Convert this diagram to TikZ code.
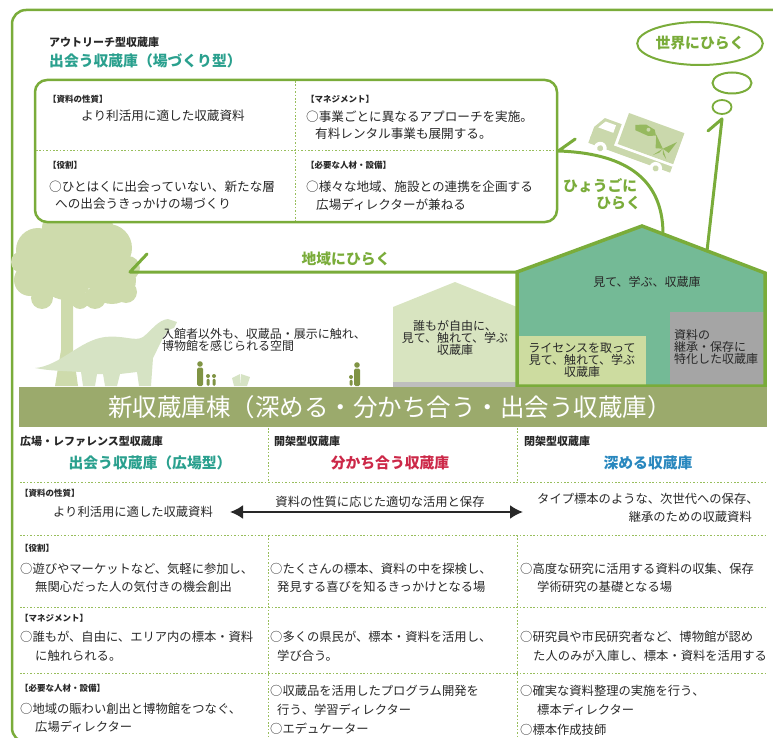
\documentclass[tikz,border=0pt]{standalone}
\usepackage{fontspec}
\setmainfont{Noto Sans CJK JP}
\usetikzlibrary{arrows.meta,shapes.geometric,calc}

\definecolor{leaf}{RGB}{122,172,58}
\definecolor{dotline}{RGB}{152,190,92}
\definecolor{headteal}{RGB}{42,160,142}
\definecolor{headred}{RGB}{204,40,72}
\definecolor{headblue}{RGB}{40,135,190}
\definecolor{band}{RGB}{155,170,108}
\definecolor{housefill}{RGB}{116,186,150}
\definecolor{lightbox}{RGB}{205,220,160}
\definecolor{smallhouse}{RGB}{216,228,192}
\definecolor{store}{RGB}{165,165,165}
\definecolor{groundgray}{RGB}{190,190,190}
\definecolor{treecol}{RGB}{206,219,172}
\definecolor{dinocol}{RGB}{214,227,196}
\definecolor{walker}{RGB}{128,148,68}
\definecolor{truckcol}{RGB}{202,216,172}
\definecolor{truckmark}{RGB}{150,185,95}
\definecolor{ink}{RGB}{40,40,40}

\tikzset{
  txtline/.style={anchor=west, inner sep=0pt, text height=0.88em, text depth=0.12em, text=ink},
  body/.style={txtline, font=\fontsize{12.3}{14}\selectfont},
  upbody/.style={txtline, font=\fontsize{12.6}{14}\selectfont},
  tag/.style={txtline, font=\fontsize{8.5}{10}\selectfont\bfseries},
  kind/.style={txtline, font=\fontsize{11}{13}\selectfont\bfseries},
  head/.style={anchor=center, inner sep=0pt, text height=0.88em, text depth=0.12em, font=\fontsize{14.8}{17}\selectfont\bfseries},
  greenlabel/.style={anchor=center, inner sep=0pt, text height=0.88em, text depth=0.12em, text=leaf, font=\fontsize{14.8}{17}\selectfont\bfseries},
  housetext/.style={inner sep=0pt, align=center, text=ink, font=\fontsize{12}{11}\selectfont},
  dotrule/.style={draw=dotline, line width=0.9pt, dash pattern=on 1.6pt off 1.8pt},
  opens/.style={draw=leaf, line width=3pt, line cap=round, line join=round},
  bubble/.style={ellipse, draw=leaf, line width=2pt, inner sep=0pt},
}

\begin{document}
\begin{tikzpicture}[x=1pt,y=-1pt]
\useasboundingbox (0,0) rectangle (773,738);

% frame of the outreach area
\draw[leaf, line width=2.5pt, rounded corners=14pt] (775,10) -- (12,10) -- (12,742) -- (60,742);

% tree
\fill[treecol] (38,250) circle (22pt) (72,240) circle (26pt) (108,248) circle (24pt)
  (30,280) circle (16pt) (66,272) circle (28pt) (112,280) circle (24pt)
  (95,298) circle (11pt) (42,298) circle (11pt) (58,228) circle (16pt) (98,230) circle (16pt)
  (128,268) circle (12pt) (126,292) circle (11pt) (80,300) circle (9pt) (22,262) circle (11pt);
\fill[treecol] (61,292) -- (73,292) -- (73,350) -- (78,386) -- (55,386) -- (61,350) -- cycle;

% dinosaur
\fill[dinocol] (35,368) .. controls (60,366) and (80,340) .. (105,337)
  .. controls (125,335) and (135,342) .. (143,337)
  .. controls (152,330) and (158,320) .. (168,319)
  -- (177,322) -- (174,328)
  .. controls (165,329) and (160,345) .. (153,358)
  -- (151,386) -- (139,386) -- (137,372)
  -- (120,374) -- (117,386) -- (105,386) -- (103,374)
  -- (97,374) -- (95,386) -- (83,386) -- (81,372)
  .. controls (66,371) and (50,371) .. cycle;

% visitors and an open book
\fill[walker] (200,364) circle (2.8pt) (208,376) circle (2pt) (214,376) circle (2pt)
  (357,365) circle (2.8pt) (351,377) circle (2pt) (415,363) circle (2.8pt) (420,375) circle (2pt);
\fill[walker, rounded corners=1.5pt] (197,367.5) rectangle (203,386)
  (206.5,378.5) rectangle (209.5,386) (212.5,378.5) rectangle (215.5,386)
  (354,368.5) rectangle (360,386) (349.5,379.5) rectangle (352.5,386)
  (412,366.5) rectangle (418,386) (418.5,377.5) rectangle (421.5,386);
\fill[dinocol] (232,378) -- (240,374) -- (241,386) -- (234,386) -- cycle
  (241,374) -- (250,377) -- (247,386) -- (241,386) -- cycle;

\node[body, font=\fontsize{12}{12}\selectfont] (plazaA) at (162,335) {入館者以外も、収蔵品・展示に触れ、};
\node[body, font=\fontsize{12}{12}\selectfont] (plazaB) at (162,347) {博物館を感じられる空間};

% outreach storage box
\node[draw=leaf, line width=2.5pt, rounded corners=12pt, fill=white, minimum width=522pt,
      minimum height=142pt, inner sep=0pt] (outreach) at (296,151) {};
\draw[dotrule] (295,81) -- (295,221);
\draw[dotrule] (36,150) -- (556,150);

\node[kind] (outKind) at (49,43) {アウトリーチ型収蔵庫};
\node[head, headteal, anchor=west] (outHead) at (49,63) {出会う収蔵庫（場づくり型）};

\node[tag] (oTagA) at (48,99) {【資料の性質】};
\node[upbody, anchor=center] (oA1) at (163,117) {より利活用に適した収蔵資料};
\node[tag] (oTagB) at (306,99) {【マネジメント】};
\node[upbody] (oB1) at (306,118) {○事業ごとに異なるアプローチを実施。};
\node[upbody] (oB2) at (315,135) {有料レンタル事業も展開する。};
\node[tag] (oTagC) at (48,165) {【役割】};
\node[upbody] (oC1) at (49,188) {○ひとはくに出会っていない、新たな層};
\node[upbody] (oC2) at (55,205) {への出会うきっかけの場づくり};
\node[tag] (oTagD) at (306,165) {【必要な人材・設備】};
\node[upbody] (oD1) at (306,188) {○様々な地域、施設との連携を企画する};
\node[upbody] (oD2) at (316,206) {広場ディレクターが兼ねる};

% thought bubbles
\node[bubble, minimum width=114pt, minimum height=43pt, text=leaf,
      font=\fontsize{14.8}{17}\selectfont\bfseries] (world) at (700,43.5) {世界にひらく};
\node[bubble, minimum width=39pt, minimum height=21pt] (bubA) at (732,83) {};
\node[bubble, line width=1.8pt, minimum width=19pt, minimum height=14pt] (bubB) at (722,107) {};

% delivery truck
\begin{scope}[shift={(629,113)}, rotate=-20]
  \fill[truckcol] (0,0) rectangle (59,33);
  \fill[truckcol] (-3,13) -- (-21,13) -- (-28,25) -- (-28,37) -- (-3,37) -- cycle;
  \fill[white] (-19,16) -- (-8,16) -- (-8,24) -- (-24,24) -- cycle;
  \fill[truckcol] (-28,35) rectangle (59,42);
  \draw[white, line width=1.2pt] (-3,35) -- (59,35);
  \fill[white] (-15,43) circle (6.5pt) (44,43) circle (6.5pt);
  \fill[truckcol] (-15,43) circle (3pt) (44,43) circle (3pt);
  \fill[truckmark] (10,9) -- (20,5) -- (30,7) -- (33,12) -- (26,15) -- (12,14) -- cycle;
  \fill[truckcol] (24,9) circle (2pt);
  \fill[truckmark] (44,22) -- (33,11) -- (37,24) -- cycle (44,22) -- (55,11) -- (51,24) -- cycle
    (44,22) -- (37,31) -- (42,27) -- cycle (44,22) -- (51,31) -- (46,27) -- cycle;
\end{scope}

% storage buildings
\fill[smallhouse] (393,386) -- (393,307) -- (455,282) -- (517,307) -- (517,386) -- cycle;
\fill[groundgray] (393,382) rectangle (517,388);
\coordinate (eaveW) at (517,272);
\coordinate (peak) at (642,226);
\coordinate (eaveE) at (765,273);
\fill[housefill] (517,386) -- (eaveW) -- (peak) -- (eaveE) -- (765,386) -- cycle;
\fill[lightbox] (517,336) rectangle (646,386);
\fill[store] (670,312) rectangle (765,386);
\draw[leaf, line width=3.5pt] (517,386) -- (eaveW) -- (peak) -- (eaveE) -- (765,386) -- cycle;

\node[housetext] (bigTxt) at (647,282) {見て、学ぶ、収蔵庫};
\node[housetext] (smallTxt) at (455,338) {誰もが自由に、\\見て、触れて、学ぶ\\収蔵庫};
\node[housetext] (licenceTxt) at (582,360) {ライセンスを取って\\見て、触れて、学ぶ\\収蔵庫};
\node[housetext, align=left] (archiveTxt) at (716,347) {資料の\\継承・保存に\\特化した収蔵庫};

% opening-out arrows, each ending in a single barb
\coordinate (townTip) at (130,272);
\draw[opens] (eaveW) -- (townTip) -- ++(17,-18);
\node[greenlabel] (townLabel) at (346,261) {地域にひらく};
\coordinate (prefRoof) at (663,234);
\draw[opens] (prefRoof) .. controls (663,175) and (620,153) .. (outreach.east) -- ++(17,-12);
\node[greenlabel, anchor=west] (prefLabelA) at (563,188) {ひょうごに};
\node[greenlabel, anchor=east] (prefLabelB) at (641,205) {ひらく};
\coordinate (worldRoof) at (707,251);
\coordinate (worldTip) at ($(bubB.south)+(0,4)$);
\draw[opens] (worldRoof) -- (worldTip) -- ++(-14,12);

% title band
\fill[band] (19,387) rectangle (767,427);
\node[text=white, inner sep=0pt, font=\fontsize{24.5}{28}\selectfont] (bandTitle) at (390,407)
  {新収蔵庫棟（深める・分かち合う・出会う収蔵庫）};

% table rules
\draw[dotrule] (268,428) -- (268,482) (517,428) -- (517,482);
\draw[dotrule] (20,482) -- (767,482) (20,535) -- (767,535) (20,607) -- (767,607) (20,673) -- (767,673);
\draw[dotrule] (268,535) -- (268,738) (517,535) -- (517,738);

% column heads
\node[kind] (kA) at (20,442) {広場・レファレンス型収蔵庫};
\node[kind] (kB) at (274,442) {開架型収蔵庫};
\node[kind] (kC) at (524,442) {閉架型収蔵庫};
\node[head, headteal] (hA) at (150,465) {出会う収蔵庫（広場型）};
\node[head, headred] (hB) at (390,465) {分かち合う収蔵庫};
\node[head, headblue] (hC) at (648,465) {深める収蔵庫};

% row: nature of the collection
\node[tag] (tA) at (20,493) {【資料の性質】};
\node[body, anchor=center] (pA) at (133,513) {より利活用に適した収蔵資料};
\node[body, anchor=center] (pB) at (380,503) {資料の性質に応じた適切な活用と保存};
\node[body] (pC1) at (537,500) {タイプ標本のような、次世代への保存、};
\node[body, anchor=east] (pC2) at (752,518) {継承のための収蔵資料};
\coordinate (keepL) at (230,512);
\coordinate (keepR) at (523,512);
\draw[ink, line width=2.2pt, {Latex[length=13pt,width=14pt]}-{Latex[length=13pt,width=14pt]}] (keepL) -- (keepR);

% row: role
\node[tag] (tB) at (20,548) {【役割】};
\node[body] (rA1) at (20,570) {○遊びやマーケットなど、気軽に参加し、};
\node[body] (rA2) at (35,588) {無関心だった人の気付きの機会創出};
\node[body] (rB1) at (270,570) {○たくさんの標本、資料の中を探検し、};
\node[body] (rB2) at (277,588) {発見する喜びを知るきっかけとなる場};
\node[body] (rC1) at (520,570) {○高度な研究に活用する資料の収集、保存};
\node[body] (rC2) at (537,588) {学術研究の基礎となる場};

% row: management
\node[tag] (tC) at (20,618) {【マネジメント】};
\node[body] (mA1) at (20,638) {○誰もが、自由に、エリア内の標本・資料};
\node[body] (mA2) at (35,657) {に触れられる。};
\node[body] (mB1) at (270,638) {○多くの県民が、標本・資料を活用し、};
\node[body] (mB2) at (277,657) {学び合う。};
\node[body] (mC1) at (520,638) {○研究員や市民研究者など、博物館が認め};
\node[body] (mC2) at (533,657) {た人のみが入庫し、標本・資料を活用する};

% row: staff and facilities
\node[tag] (tD) at (20,688) {【必要な人材・設備】};
\node[body] (sA1) at (20,710) {○地域の賑わい創出と博物館をつなぐ、};
\node[body] (sA2) at (35,728) {広場ディレクター};
\node[body] (sB1) at (270,692) {○収蔵品を活用したプログラム開発を};
\node[body] (sB2) at (277,711) {行う、学習ディレクター};
\node[body] (sB3) at (270,730) {○エデュケーター};
\node[body] (sC1) at (520,692) {○確実な資料整理の実施を行う、};
\node[body] (sC2) at (537,711) {標本ディレクター};
\node[body] (sC3) at (520,731) {○標本作成技師};

\end{tikzpicture}
\end{document}
